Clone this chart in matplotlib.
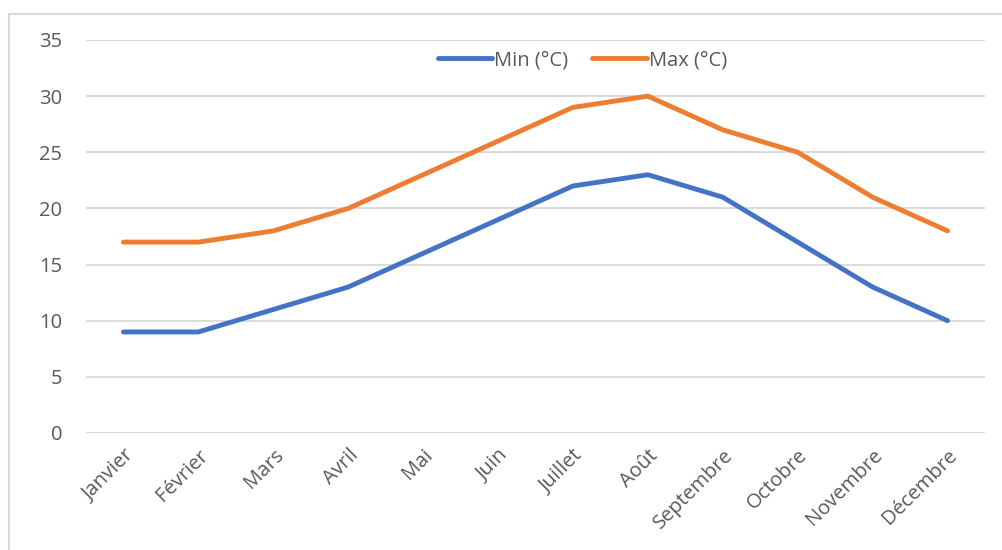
import matplotlib.pyplot as plt
from matplotlib.patches import Rectangle

months = ["Janvier", "Février", "Mars", "Avril", "Mai", "Juin", "Juillet",
          "Août", "Septembre", "Octobre", "Novembre", "Décembre"]
t_min = [9, 9, 11, 13, 16, 19, 22, 23, 21, 17, 13, 10]
t_max = [17, 17, 18, 20, 23, 26, 29, 30, 27, 25, 21, 18]
y_ticks = [0, 5, 10, 15, 20, 25, 30, 35]

plt.rcParams['font.family'] = ['Open Sans', 'DejaVu Sans']
txt = '#595959'
fs = 14.5

fig = plt.figure(figsize=(10.03, 5.5), dpi=100)
# cadre du graphique (seulement haut et gauche visibles)
fig.patches.append(Rectangle((9 / 1003, -0.1), 1.2, 1 - 14 / 550 + 0.1,
                             transform=fig.transFigure, fill=False,
                             edgecolor='#d9d9d9', linewidth=1.5))

ax = fig.add_axes([86 / 1003, 1 - 433 / 550, (985 - 86) / 1003, (433 - 40) / 550])
x = list(range(len(months)))
ax.plot(x, t_min, color='#4472C4', linewidth=3.5, label='Min (°C)',
        solid_capstyle='round', solid_joinstyle='round')
ax.plot(x, t_max, color='#ED7D31', linewidth=3.5, label='Max (°C)',
        solid_capstyle='round', solid_joinstyle='round')

ax.set_xlim(-0.5, len(months) - 0.5)
ax.set_ylim(0, 35)
ax.set_yticks(y_ticks)
ax.set_xticks(x)
ax.set_xticklabels(months, rotation=45, ha='right', rotation_mode='anchor')
ax.tick_params(axis='both', length=0, labelsize=fs, labelcolor=txt)
ax.tick_params(axis='y', pad=17)
ax.tick_params(axis='x', pad=9)
ax.grid(axis='y', color='#d9d9d9', linewidth=1.3)
ax.set_axisbelow(True)
for s in ax.spines.values():
    s.set_visible(False)

leg = ax.legend(loc='upper center', bbox_to_anchor=(0.552, 1.005), ncol=2,
                frameon=False, fontsize=fs, handlelength=2.7,
                handletextpad=0.1, columnspacing=1.2, borderaxespad=0.2)
for t in leg.get_texts():
    t.set_color(txt)

fig.savefig('out.png', dpi=100)
